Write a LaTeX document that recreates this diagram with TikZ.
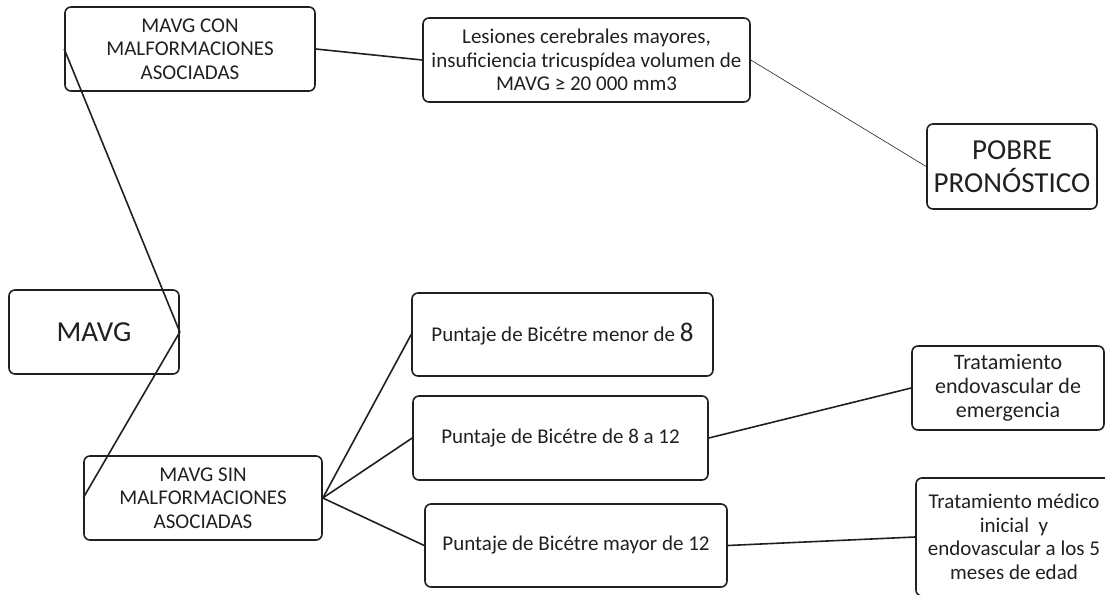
\documentclass[tikz,border=0pt]{standalone}
\usepackage{fontspec}
\setmainfont{Carlito}
\usetikzlibrary{positioning}
\definecolor{chartink}{HTML}{231F20}

\tikzset{
  box/.style={draw=chartink,line width=1.6pt,rounded corners=6pt,align=center,
    inner sep=2pt,text=chartink,font=\fontsize{21}{23.5}\selectfont},
  bigbox/.style={box,font=\fontsize{22}{24}\selectfont},
  link/.style={draw=chartink,line width=1.6pt},
}

\begin{document}
\begin{tikzpicture}[x=1pt,y=-1pt]
        \useasboundingbox (0,0) rectangle (1105,594);
        \clip (0,0) rectangle (1105,594);

        \node[box,minimum width=170pt,minimum height=84pt,font=\fontsize{29}{33}\selectfont] (mavg) at (94,332) {MAVG};
        \node[box,minimum width=250pt,minimum height=84pt] (con) at (190,49) {MAVG CON\\MALFORMACIONES\\ASOCIADAS};
        \node[box,minimum width=238pt,minimum height=84pt] (sin) at (203,498) {MAVG SIN\\MALFORMACIONES\\ASOCIADAS};

        \node[box,minimum width=327pt,minimum height=84pt] (lesiones) at (586.5,60) {Lesiones cerebrales mayores,\\insuficiencia tricuspídea volumen de\\MAVG ≥ 20 000 mm3};
        \node[box,minimum width=170pt,minimum height=85pt,font=\fontsize{29}{33}\selectfont] (pobre) at (1012,166.5) {POBRE\\PRONÓSTICO};

        \node[box,minimum width=301pt,minimum height=83pt] (menor) at (562.5,334.5) {Puntaje de Bicétre menor de {\fontsize{27}{27}\selectfont 8}};
        \node[box,minimum width=295pt,minimum height=84pt] (medio) at (560.5,438) {Puntaje de Bicétre de 8 a 12};
        \node[box,minimum width=302pt,minimum height=83pt] (mayor) at (576,545.5) {Puntaje de Bicétre mayor de 12};

        \node[bigbox,minimum width=192pt,minimum height=84pt] (endo) at (1008,388) {Tratamiento\\endovascular de\\emergencia};
        \node[box,minimum width=196pt,minimum height=118pt] (medico) at (1014,537) {Tratamiento médico\\inicial\ \ y\\endovascular a los 5\\meses de edad};

        \draw[link] (con.west) -- (mavg.east) -- (sin.west);
        \draw[link] (con.east) -- (lesiones.west);
        \draw[link,line width=.6pt] (lesiones.east) -- (pobre.west);
        \draw[link] (sin.east) -- (menor.west);
        \draw[link] (sin.east) -- (medio.west);
        \draw[link] (sin.east) -- (mayor.west);
        \draw[link] (medio.east) -- (endo.west);
        \draw[link] (mayor.east) -- (medico.west);
      \end{tikzpicture}
\end{document}
